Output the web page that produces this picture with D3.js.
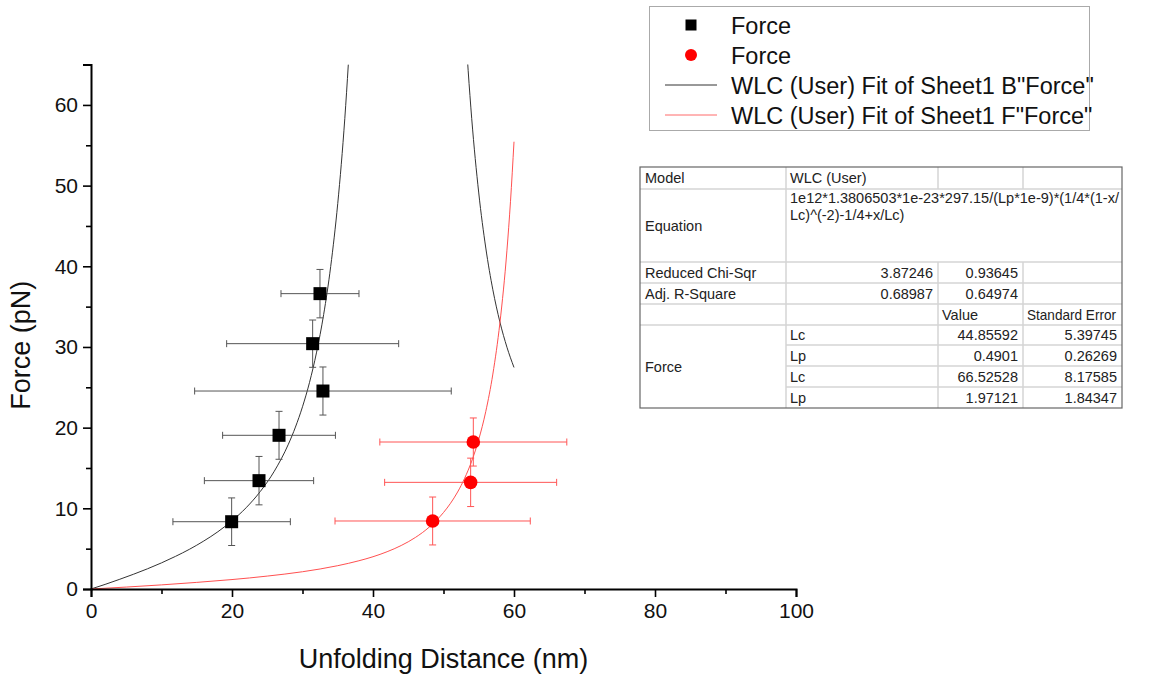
<!DOCTYPE html>
<html>
<head>
<meta charset="utf-8">
<script src="https://cdn.jsdelivr.net/npm/d3@7"></script>
<style>
  body { margin: 0; background: #fff; }
  svg { font-family: "Liberation Sans", Arial, sans-serif; }
</style>
</head>
<body>
<div id="viz-chart"></div>
<script>
// measured points (x in nm, y in pN) with symmetric error bars
const blackX = [19.95, 23.83, 26.67, 32.9, 31.44, 32.48];
const blackY = [8.34, 13.43, 19.05, 24.54, 30.41, 36.61];
const blackXErr = [8.33, 7.75, 8.0, 18.2, 12.2, 5.53];
const blackYErr = [2.95, 3.0, 2.97, 2.98, 2.93, 3.0];

const redX = [48.46, 53.85, 54.23];
const redY = [8.43, 13.22, 18.22];
const redXErr = [13.85, 12.2, 13.26];
const redYErr = [2.97, 3.0, 2.98];

// fit curves (two branches for the black one)
const blackFitX1 = [0, 2, 4, 6, 8, 10, 12, 14, 16, 18, 20, 22, 24, 26, 28, 29, 30, 31, 32, 33, 34, 35, 35.5, 36, 36.5];
const blackFitY1 = [0, 0.57, 1.18, 1.82, 2.5, 3.24, 4.05, 4.94, 5.95, 7.1, 8.46, 10.07, 12.07, 14.6, 17.95, 20.07, 22.59, 25.62, 29.36, 34.02, 39.98, 47.79, 52.64, 58.31, 65.03];
const blackFitX2 = [53.4, 53.5, 54, 55, 56, 57, 58, 59, 60];
const blackFitY2 = [65.55, 64.24, 58.34, 49.09, 42.26, 37.09, 33.1, 29.97, 27.46];
const redFitX = [0, 5, 10, 15, 20, 25, 30, 35, 38, 40, 42, 44, 46, 48, 50, 51, 52, 53, 54, 55, 56, 57, 58, 59, 59.5, 60];
const redFitY = [0, 0.24, 0.51, 0.82, 1.17, 1.6, 2.14, 2.89, 3.5, 4.0, 4.62, 5.39, 6.38, 7.69, 9.48, 10.63, 12.02, 13.73, 15.85, 18.54, 22.02, 26.64, 32.98, 41.99, 48.0, 55.44];

const xMajor = [0, 20, 40, 60, 80, 100];
const xMinor = [10, 30, 50, 70, 90];
const yMajor = [0, 10, 20, 30, 40, 50, 60];
const yMinor = [5, 15, 25, 35, 45, 55, 65];

const legendLabels = ["Force", "Force", "WLC (User) Fit of Sheet1 B\"Force\"", "WLC (User) Fit of Sheet1 F\"Force\""];

const tableRows = [
  ["Model", "WLC (User)", "", ""],
  ["Equation", "1e12*1.3806503*1e-23*297.15/(Lp*1e-9)*(1/4*(1-x/|Lc)^(-2)-1/4+x/Lc)", "", ""],
  ["Reduced Chi-Sqr", "3.87246", "0.93645", ""],
  ["Adj. R-Square", "0.68987", "0.64974", ""],
  ["", "", "Value", "Standard Error"],
  ["Force", "Lc", "44.85592", "5.39745"],
  ["", "Lp", "0.4901", "0.26269"],
  ["", "Lc", "66.52528", "8.17585"],
  ["", "Lp", "1.97121", "1.84347"]
];

const width = 1150, height = 674;
const svg = d3.select("#viz-chart").append("svg")
  .attr("width", width).attr("height", height);

const x = d3.scaleLinear().domain([0, 100]).range([91, 796]);
const y = d3.scaleLinear().domain([0, 65]).range([589, 64.6]);

svg.append("clipPath").attr("id", "plot-clip")
  .append("rect")
  .attr("x", x(0)).attr("y", y(65))
  .attr("width", x(100) - x(0)).attr("height", y(0) - y(65));

// fit lines
const line = d3.line().x((d) => x(d[0])).y((d) => y(d[1])).curve(d3.curveMonotoneX);
const plot = svg.append("g").attr("clip-path", "url(#plot-clip)");
[[blackFitX1, blackFitY1, "#333"], [blackFitX2, blackFitY2, "#333"], [redFitX, redFitY, "#ff5050"]]
  .forEach(([xs, ys, c]) => {
    plot.append("path")
      .datum(xs.map((v, i) => [v, ys[i]]))
      .attr("d", line)
      .attr("fill", "none")
      .attr("stroke", c)
      .attr("stroke-width", 1);
  });

// error bars + markers
function drawSeries(xs, ys, xe, ye, color, shape) {
  const data = xs.map((v, i) => ({ x: v, y: ys[i], xe: xe[i], ye: ye[i] }));
  const g = svg.append("g");
  const bars = g.selectAll("g.err").data(data).enter().append("g")
    .attr("stroke", color).attr("stroke-width", 1).attr("fill", "none");
  const cap = 3.5;
  bars.append("line")
    .attr("x1", (d) => x(d.x - d.xe)).attr("x2", (d) => x(d.x + d.xe))
    .attr("y1", (d) => y(d.y)).attr("y2", (d) => y(d.y));
  bars.append("line")
    .attr("x1", (d) => x(d.x)).attr("x2", (d) => x(d.x))
    .attr("y1", (d) => y(d.y - d.ye)).attr("y2", (d) => y(d.y + d.ye));
  [-1, 1].forEach((s) => {
    bars.append("line")
      .attr("x1", (d) => x(d.x + s * d.xe)).attr("x2", (d) => x(d.x + s * d.xe))
      .attr("y1", (d) => y(d.y) - cap).attr("y2", (d) => y(d.y) + cap);
    bars.append("line")
      .attr("x1", (d) => x(d.x) - cap).attr("x2", (d) => x(d.x) + cap)
      .attr("y1", (d) => y(d.y + s * d.ye)).attr("y2", (d) => y(d.y + s * d.ye));
  });
  if (shape === "square") {
    g.selectAll("rect.pt").data(data).enter().append("rect")
      .attr("x", (d) => x(d.x) - 6.5).attr("y", (d) => y(d.y) - 6.5)
      .attr("width", 13).attr("height", 13).attr("fill", "#000");
  } else {
    g.selectAll("circle.pt").data(data).enter().append("circle")
      .attr("cx", (d) => x(d.x)).attr("cy", (d) => y(d.y))
      .attr("r", 6.8).attr("fill", "#ff0000");
  }
}
drawSeries(blackX, blackY, blackXErr, blackYErr, "#555", "square");
drawSeries(redX, redY, redXErr, redYErr, "#ff5555", "circle");

// axes
svg.append("g").attr("transform", `translate(0,${y(0)})`)
  .call(d3.axisBottom(x).tickValues(xMajor).tickSize(8).tickPadding(6).tickFormat(d3.format("d")));
svg.append("g").attr("transform", `translate(0,${y(0)})`)
  .call(d3.axisBottom(x).tickValues(xMinor).tickSize(5).tickFormat(""))
  .select(".domain").remove();
svg.append("g").attr("transform", `translate(${x(0)},0)`)
  .call(d3.axisLeft(y).tickValues(yMajor).tickSize(8).tickPadding(5).tickFormat(d3.format("d")));
svg.append("g").attr("transform", `translate(${x(0)},0)`)
  .call(d3.axisLeft(y).tickValues(yMinor).tickSize(5).tickFormat(""))
  .select(".domain").remove();

svg.selectAll(".domain").attr("stroke", "#000").attr("stroke-width", 2);
svg.selectAll(".tick line").attr("stroke", "#000").attr("stroke-width", 1.6);
svg.selectAll(".tick text").attr("font-size", 21).attr("fill", "#111")
  .attr("font-family", "Liberation Sans, Arial, sans-serif");

svg.append("text")
  .attr("x", (x(0) + x(100)) / 2).attr("y", 668)
  .attr("text-anchor", "middle").attr("font-size", 27).attr("fill", "#111")
  .text("Unfolding Distance (nm)");
svg.append("text")
  .attr("transform", `translate(29.5,${y(30.2)}) rotate(-90)`)
  .attr("text-anchor", "middle").attr("font-size", 27).attr("fill", "#111")
  .text("Force (pN)");

// legend
const legend = svg.append("g");
legend.append("rect")
  .attr("x", 649.5).attr("y", 6.5).attr("width", 440).attr("height", 124)
  .attr("fill", "#fff").attr("stroke", "#aaa").attr("stroke-width", 1);
legendLabels.forEach((label, i) => {
  const ly = 25 + i * 30;
  if (i === 0) {
    legend.append("rect").attr("x", 685.5).attr("y", ly - 5.5).attr("width", 11).attr("height", 11).attr("fill", "#000");
  } else if (i === 1) {
    legend.append("circle").attr("cx", 691).attr("cy", ly).attr("r", 6).attr("fill", "#ff0000");
  } else {
    legend.append("line").attr("x1", 665).attr("x2", 717).attr("y1", ly).attr("y2", ly)
      .attr("stroke", i === 2 ? "#333" : "#ff6b6b").attr("stroke-width", 1);
  }
  legend.append("text").attr("x", 731).attr("y", ly + 8.5)
    .attr("font-size", 23.5).attr("fill", "#111").text(label);
});

// fit result table
const colX = [640, 786, 938, 1023, 1122];
const rowY = [167, 189, 262, 283, 304, 325, 345, 366, 387, 408];
const table = svg.append("g").attr("font-size", 14.5).attr("fill", "#222");
table.append("rect").attr("x", colX[0]).attr("y", rowY[0])
  .attr("width", colX[4] - colX[0]).attr("height", rowY[9] - rowY[0])
  .attr("fill", "#fff");
const grid = table.append("g").attr("stroke", "#d4d4d4").attr("stroke-width", 1.5);
// horizontal lines (skip the merged "Force" cell in column 1)
rowY.slice(1, 9).forEach((ry, i) => {
  const startCol = i + 1 >= 6 ? colX[1] : colX[0];
  grid.append("line").attr("x1", startCol).attr("x2", colX[4]).attr("y1", ry).attr("y2", ry);
});
// vertical lines (skip the merged equation cell)
[1, 2, 3].forEach((c) => {
  rowY.slice(0, 9).forEach((ry, r) => {
    if (r === 1 && c > 1) return;
    grid.append("line").attr("x1", colX[c]).attr("x2", colX[c]).attr("y1", ry).attr("y2", rowY[r + 1]);
  });
});
table.append("rect").attr("x", colX[0]).attr("y", rowY[0])
  .attr("width", colX[4] - colX[0]).attr("height", rowY[9] - rowY[0])
  .attr("fill", "none").attr("stroke", "#666").attr("stroke-width", 1.2);

const numeric = (s) => /^[0-9.]+$/.test(s);
tableRows.forEach((row, r) => {
  const top = rowY[r], bot = rowY[r + 1];
  const mid = (top + bot) / 2 + 5;
  row.forEach((cell, c) => {
    if (!cell) return;
    if (c === 0) {
      let cy = mid;
      if (cell === "Force") cy = (rowY[5] + rowY[9]) / 2 + 5;
      table.append("text").attr("x", colX[0] + 5).attr("y", cy).text(cell);
    } else if (r === 1 && c === 1) {
      cell.split("|").forEach((part, k) => {
        table.append("text").attr("x", colX[1] + 4).attr("y", top + 14 + k * 17).text(part);
      });
    } else if (numeric(cell)) {
      table.append("text").attr("x", colX[c + 1] - 5).attr("y", mid)
        .attr("text-anchor", "end").text(cell);
    } else {
      const t = table.append("text").attr("x", colX[c] + 4).attr("y", mid).text(cell);
      if (cell === "Standard Error") t.attr("textLength", 89).attr("lengthAdjust", "spacingAndGlyphs");
    }
  });
});
</script>
</body>
</html>
